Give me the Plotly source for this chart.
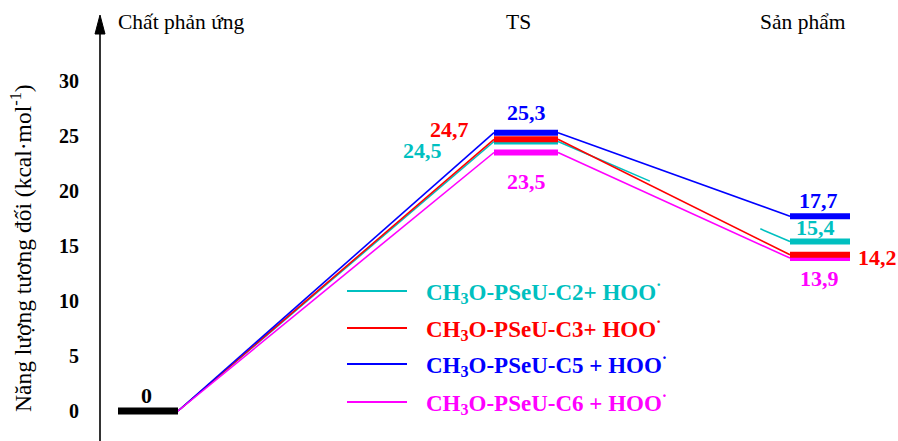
import plotly.graph_objects as go

# ---------------- data ----------------
stages = ["Chất phản ứng", "TS", "Sản phẩm"]
series_names = [
    "CH<sub>3</sub>O-PSeU-C2+ HOO<sup>·</sup>",
    "CH<sub>3</sub>O-PSeU-C3+ HOO<sup>·</sup>",
    "CH<sub>3</sub>O-PSeU-C5 + HOO<sup>·</sup>",
    "CH<sub>3</sub>O-PSeU-C6 + HOO<sup>·</sup>",
]
reactant_energy = [0.0, 0.0, 0.0, 0.0]
ts_energy = [24.5, 24.7, 25.3, 23.5]
product_energy = [15.4, 14.2, 17.7, 13.9]
y_ticks = [0, 5, 10, 15, 20, 25, 30]
colors = ["#00C0C0", "#FF0000", "#0000FF", "#FF00FF"]

# ---------------- layout constants ----------------
W, H = 898, 441
PX0, PXU = 411.0, 11.0          # pixel of 0 and pixels per unit
Y_TOP = PX0 / PXU
Y_BOT = -(H - PX0) / PXU
SERIF = "Liberation Serif, DejaVu Serif, serif"

def ppy(px):
    return 1 - px / H

stage_x = [148, 526, 820]
stage_half = [30, 32, 30]

fig = go.Figure()

# connectors
for i in range(4):
    xr = stage_x[0] + stage_half[0]
    xt0 = stage_x[1] - stage_half[1]
    xt1 = stage_x[1] + stage_half[1]
    xp = stage_x[2] - stage_half[2]
    fig.add_trace(go.Scatter(
        x=[xr, xt0], y=[reactant_energy[i], ts_energy[i]], mode="lines",
        line=dict(color=colors[i], width=1.6), hoverinfo="skip", showlegend=False))
    if i == 0:
        # broken connector (as drawn in the reference)
        f1, f2 = 0.396, 0.872
        xs = [xt1, xt1 + f1 * (xp - xt1), None, xt1 + f2 * (xp - xt1), xp]
        ys = [ts_energy[i], ts_energy[i] + f1 * (product_energy[i] - ts_energy[i]), None,
              ts_energy[i] + f2 * (product_energy[i] - ts_energy[i]), product_energy[i]]
    else:
        xs = [xt1, xp]
        ys = [ts_energy[i], product_energy[i]]
    fig.add_trace(go.Scatter(
        x=xs, y=ys, mode="lines", connectgaps=False,
        line=dict(color=colors[i], width=1.6), hoverinfo="skip", showlegend=False))

# reactant level
fig.add_trace(go.Scatter(
    x=[stage_x[0] - stage_half[0], stage_x[0] + stage_half[0]],
    y=[reactant_energy[0], reactant_energy[0]], mode="lines",
    line=dict(color="black", width=7), hoverinfo="skip", showlegend=False))

# TS and product levels
for i in [3, 0, 1, 2]:
    for s, e in ((1, ts_energy[i]), (2, product_energy[i])):
        fig.add_trace(go.Scatter(
            x=[stage_x[s] - stage_half[s], stage_x[s] + stage_half[s]], y=[e, e],
            mode="lines", line=dict(color=colors[i], width=6),
            hoverinfo="skip", showlegend=False))

def fmt(v):
    return f"{v:.1f}".replace(".", ",")

annotations = []
# value labels: (value, text, color, x, yshift)
labels = [
    (reactant_energy[0], "0", "black", 146, 16),
    (ts_energy[2], fmt(ts_energy[2]), colors[2], 526, 20),
    (ts_energy[1], fmt(ts_energy[1]), colors[1], 449, 10),
    (ts_energy[0], fmt(ts_energy[0]), colors[0], 422, -9),
    (ts_energy[3], fmt(ts_energy[3]), colors[3], 526, -29),
    (product_energy[2], fmt(product_energy[2]), colors[2], 818, 16),
    (product_energy[0], fmt(product_energy[0]), colors[0], 815, 14),
    (product_energy[1], fmt(product_energy[1]), colors[1], 877, -3),
    (product_energy[3], fmt(product_energy[3]), colors[3], 819, -20),
]
for v, t, c, x, ys in labels:
    annotations.append(dict(
        x=x, y=v, xref="x", yref="y", text=t, showarrow=False,
        xanchor="center", yanchor="middle", yshift=ys,
        font=dict(family=SERIF, size=22, color=c, weight="bold")))

# stage labels
for name, x in zip(stages, [181, 518, 803]):
    annotations.append(dict(
        x=x, y=ppy(22), xref="x", yref="paper", text=name, showarrow=False,
        xanchor="center", yanchor="middle",
        font=dict(family=SERIF, size=21.5, color="black")))

# y-axis title
annotations.append(dict(
    x=21, y=ppy(248), xref="x", yref="paper",
    text="Năng lượng tương đối (kcal·mol<sup>-1</sup>)",
    textangle=-90, showarrow=False, xanchor="center", yanchor="middle",
    font=dict(family=SERIF, size=23.5, color="black")))

# legend
legend_y = [291, 328, 364, 402]
shapes = []
for i in range(4):
    shapes.append(dict(type="line", xref="x", yref="paper", x0=347, x1=407,
                       y0=ppy(legend_y[i]), y1=ppy(legend_y[i]),
                       line=dict(color=colors[i], width=2)))
    annotations.append(dict(
        x=424, y=ppy(legend_y[i]), xref="x", yref="paper",
        xanchor="left", yanchor="middle",
        text=series_names[i], showarrow=False,
        font=dict(family=SERIF, size=23, color=colors[i], weight="bold")))

# axis line with arrow
shapes.append(dict(type="line", xref="x", yref="paper", x0=100, x1=100,
                   y0=0, y1=ppy(30), line=dict(color="black", width=1.6)))
shapes.append(dict(type="path", xref="x", yref="paper",
                   path=f"M 95 {ppy(34)} L 100 {ppy(15)} L 105 {ppy(34)} Z",
                   fillcolor="black", line=dict(color="black", width=1)))

fig.update_layout(
    width=W, height=H,
    margin=dict(l=0, r=0, t=0, b=0),
    paper_bgcolor="white", plot_bgcolor="white",
    showlegend=False,
    xaxis=dict(range=[0, W], visible=False, fixedrange=True),
    yaxis=dict(range=[Y_BOT, Y_TOP], anchor="free", position=100 / W,
               tickvals=y_ticks, ticktext=[str(t) for t in y_ticks],
               ticks="outside", ticklen=17, tickcolor="rgba(0,0,0,0)",
               showgrid=False, zeroline=False, showline=False, fixedrange=True,
               tickfont=dict(family=SERIF, size=20, color="black", weight="bold")),
    annotations=annotations,
    shapes=shapes,
)

fig.write_html("out.html", config={"displayModeBar": False},
               post_script="document.body.style.margin='0';")
